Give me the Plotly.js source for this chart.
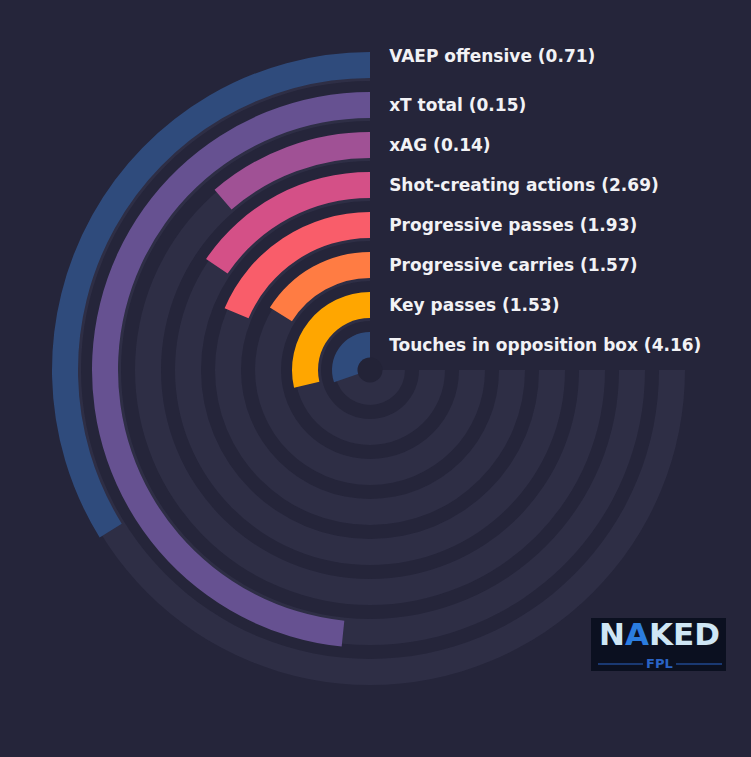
<!DOCTYPE html>
<html>
<head>
<meta charset="utf-8">
<script src="https://cdn.plot.ly/plotly-3.0.1.min.js"></script>
<style>
  html, body { margin: 0; padding: 0; background: #25253a; }
  #chart { width: 751px; height: 757px; }
</style>
</head>
<body>
<div id="chart"></div>
<script>
// metrics from the inner ring out to the outer ring
const metrics = [
    'Touches in opposition box',
    'Key passes',
    'Progressive carries',
    'Progressive passes',
    'Shot-creating actions',
    'xAG',
    'xT total',
    'VAEP offensive'
];
const values = [4.16, 1.53, 1.57, 1.93, 2.69, 0.14, 0.15, 0.71];
// share of the 270 degree track filled by each bar (percentile)
const percentiles = [40.3, 38.2, 21.5, 24.8, 20.7, 15.1, 64.5, 45.1];
const colors = ['#2f4b7c', '#ffa600', '#ff7c43', '#f95d6a', '#d45087', '#a05195', '#665191', '#2f4b7c'];

const BG = '#25253a';
const TRACK = '#2e2e45';
const SWEEP = 270;       // degrees covered by a full track
const STEP = 40;         // ring spacing, radial units
const INNER = 12;        // inner radius of the first ring
const THICK = 26;        // ring thickness

const idx = metrics.map((_, i) => i);
const ringBase = idx.map(i => INNER + i * STEP);
const angles = percentiles.map(p => p / 100 * SWEEP);

const tracks = {
    type: 'barpolar',
    r: idx.map(() => THICK),
    base: ringBase.map(b => b - 3),
    theta: idx.map(() => SWEEP / 2),
    width: idx.map(() => SWEEP),
    marker: { color: TRACK, line: { width: 0 } },
    hoverinfo: 'skip',
    showlegend: false
};

const bars = {
    type: 'barpolar',
    r: idx.map(() => THICK),
    base: ringBase,
    theta: angles.map(a => a / 2),
    width: angles,
    marker: { color: colors, line: { width: 0 } },
    hoverinfo: 'skip',
    showlegend: false
};

const hub = {
    type: 'scatterpolar',
    mode: 'markers',
    r: [0],
    theta: [0],
    marker: { size: 25, color: '#232337' },
    hoverinfo: 'skip',
    showlegend: false
};

const labelText = metrics.map((m, i) => m + ' (' + values[i].toFixed(2) + ')');
const labelFont = { family: 'DejaVu Sans', size: 17, color: '#f2f2f5', weight: 'bold' };
const last = metrics.length - 1;

const labels = {
    type: 'scatterpolar',
    mode: 'markers+text',
    r: ringBase.slice(0, last).map(b => b + THICK / 2 - 1.5),
    theta: idx.slice(0, last).map(() => 0),
    text: labelText.slice(0, last),
    textposition: 'middle right',
    textfont: labelFont,
    marker: { size: 29, opacity: 0 },
    hoverinfo: 'skip',
    showlegend: false,
    cliponaxis: false
};

// outermost label sits up near the ring's outer edge
const topLabel = {
    type: 'scatterpolar',
    mode: 'markers+text',
    r: [ringBase[last] + THICK - 6],
    theta: [0],
    text: [labelText[last]],
    textposition: 'middle right',
    textfont: labelFont,
    marker: { size: 29, opacity: 0 },
    hoverinfo: 'skip',
    showlegend: false,
    cliponaxis: false
};

const layout = {
    width: 751,
    height: 757,
    paper_bgcolor: BG,
    plot_bgcolor: BG,
    margin: { l: 0, r: 0, t: 0, b: 0 },
    showlegend: false,
    polar: {
        domain: { x: [50 / 751, 690 / 751], y: [67 / 757, 707 / 757] },
        bgcolor: 'rgba(0,0,0,0)',
        bargap: 0,
        radialaxis: { visible: false, range: [0, 320], showgrid: false },
        angularaxis: {
            visible: false,
            rotation: 90,
            direction: 'counterclockwise',
            showgrid: false
        }
    },
    shapes: [
        {
            type: 'rect', xref: 'paper', yref: 'paper',
            x0: 591 / 751, x1: 726 / 751, y0: 1 - 671 / 757, y1: 1 - 618 / 757,
            fillcolor: '#0b1020', line: { width: 0 }
        },
        {
            type: 'line', xref: 'paper', yref: 'paper',
            x0: 598 / 751, x1: 643 / 751, y0: 1 - 664 / 757, y1: 1 - 664 / 757,
            line: { color: '#2a63c4', width: 1 }
        },
        {
            type: 'line', xref: 'paper', yref: 'paper',
            x0: 676 / 751, x1: 722 / 751, y0: 1 - 664 / 757, y1: 1 - 664 / 757,
            line: { color: '#2a63c4', width: 1 }
        }
    ],
    annotations: [
        {
            xref: 'paper', yref: 'paper',
            x: 659 / 751, y: 1 - 634 / 757,
            xanchor: 'center', yanchor: 'middle',
            showarrow: false,
            text: 'N<span style="color:#2b7de0">A</span>KED',
            font: { family: 'DejaVu Sans', size: 31, color: '#cfe6f5', weight: 'bold' }
        },
        {
            xref: 'paper', yref: 'paper',
            x: 659 / 751, y: 1 - 663 / 757,
            xanchor: 'center', yanchor: 'middle',
            showarrow: false,
            text: 'FPL',
            font: { family: 'DejaVu Sans', size: 13, color: '#2a63c4', weight: 'bold' }
        }
    ]
};

Plotly.newPlot('chart', [tracks, bars, hub, labels, topLabel], layout, {
    staticPlot: true,
    displayModeBar: false
});
</script>
</body>
</html>
